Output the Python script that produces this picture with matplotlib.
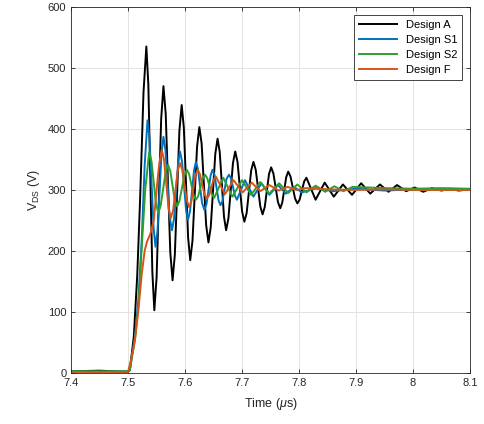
import matplotlib
matplotlib.use('Agg')
import matplotlib.pyplot as plt

plt.rcParams['font.family'] = ['Liberation Sans', 'DejaVu Sans']
plt.rcParams['mathtext.fontset'] = 'custom'
plt.rcParams['mathtext.rm'] = 'Liberation Sans'
plt.rcParams['mathtext.it'] = 'Liberation Sans:italic'

# Design A (black)
t_a = [7.40, 7.45, 7.50, 7.503, 7.510, 7.516, 7.521, 7.527, 7.532, 7.5355, 7.5425, 7.546,
       7.550, 7.558, 7.562, 7.566, 7.574, 7.578, 7.582, 7.590, 7.594, 7.5978, 7.6053, 7.609,
       7.613, 7.621, 7.625, 7.629, 7.637, 7.641, 7.645, 7.653, 7.657, 7.6608, 7.6683, 7.672,
       7.676, 7.684, 7.688, 7.692, 7.700, 7.704, 7.708, 7.716, 7.720, 7.724, 7.732, 7.736,
       7.7398, 7.7473, 7.751, 7.755, 7.763, 7.767, 7.7705, 7.7775, 7.781, 7.785, 7.793, 7.797,
       7.801, 7.809, 7.813, 7.829, 7.845, 7.861, 7.877, 7.893, 7.909, 7.925, 7.942, 7.957,
       7.972, 7.988, 8.003, 8.018, 8.033, 8.050, 8.065, 8.080, 8.100]
v_a = [3, 4, 2, 5, 60, 160, 284, 460, 535, 472, 166, 103,
       157, 416, 470, 424, 198, 152, 194, 397, 439, 402, 222, 185,
       217, 371, 403, 376, 242, 214, 239, 359, 384, 362, 256, 234,
       253, 344, 363, 346, 265, 248, 262, 332, 346, 333, 273, 260,
       272, 326, 337, 327, 280, 270, 279, 321, 330, 322, 286, 278,
       284, 314, 320, 284, 312, 289, 309, 292, 311, 294, 309, 297,
       308, 298, 304, 297, 303, 299, 302, 299, 301]

# Design S1 (blue)
t_s1 = [7.40, 7.45, 7.50, 7.503, 7.512, 7.518, 7.524, 7.529, 7.534, 7.5376, 7.5447, 7.548,
        7.5516, 7.5587, 7.562, 7.5656, 7.5727, 7.577, 7.5806, 7.5877, 7.591, 7.5946, 7.6017,
        7.605, 7.6086, 7.6157, 7.619, 7.6226, 7.6297, 7.634, 7.6376, 7.6447, 7.648, 7.6516,
        7.6587, 7.662, 7.6656, 7.6727, 7.677, 7.6806, 7.6877, 7.691, 7.705, 7.720, 7.734,
        7.748, 7.763, 7.777, 7.791, 7.805, 7.830, 7.860, 7.900, 7.950, 8.000, 8.050, 8.100]
v_s1 = [3, 2, 3, 5, 60, 120, 220, 340, 414, 384, 238, 207,
        233, 361, 387, 365, 257, 234, 253, 344, 363, 347, 267,
        251, 265, 332, 346, 334, 279, 267, 277, 323, 333, 325,
        283, 275, 282, 318, 325, 319, 290, 284, 316, 289, 311,
        292, 308, 294, 305, 296, 303, 298, 302, 299, 301, 300, 300]

# Design S2 (green)
t_s2 = [7.40, 7.45, 7.50, 7.503, 7.512, 7.518, 7.524, 7.530, 7.537, 7.541, 7.549, 7.553,
        7.557, 7.566, 7.570, 7.574, 7.582, 7.586, 7.590, 7.599, 7.603, 7.607, 7.615, 7.619,
        7.623, 7.631, 7.635, 7.639, 7.647, 7.651, 7.667, 7.683, 7.700, 7.716, 7.732, 7.748,
        7.765, 7.781, 7.797, 7.813, 7.829, 7.846, 7.862, 7.878, 7.894, 7.950, 8.000, 8.050,
        8.100]
v_s2 = [3, 3, 3, 5, 55, 110, 207, 300, 362, 347, 277, 262,
        274, 330, 341, 331, 283, 273, 282, 324, 333, 326, 291, 284,
        290, 319, 325, 319, 293, 287, 320, 289, 316, 292, 313, 294,
        311, 295, 309, 296, 307, 297, 306, 298, 305, 303, 302, 303,
        302]

# Design F (orange)
t_f = [7.40, 7.45, 7.50, 7.5006, 7.506, 7.512, 7.518, 7.524, 7.529, 7.533, 7.539, 7.545,
       7.552, 7.555, 7.559, 7.563, 7.571, 7.575, 7.579, 7.587, 7.591, 7.595, 7.603, 7.607,
       7.611, 7.618, 7.622, 7.626, 7.634, 7.638, 7.642, 7.650, 7.654, 7.670, 7.685, 7.701,
       7.717, 7.732, 7.748, 7.764, 7.780, 7.796, 7.811, 7.850, 7.900, 7.950, 8.000, 8.050,
       8.100]
v_f = [2, 2, 2, 5, 25, 54, 103, 163, 200, 215, 228, 250,
       320, 345, 366, 350, 270, 254, 267, 331, 344, 333, 283, 272,
       281, 324, 333, 326, 293, 286, 291, 317, 322, 293, 316, 296,
       312, 298, 308, 299, 305, 300, 303, 301, 300, 301, 300, 300,
       300]

x_ticks = [7.4, 7.5, 7.6, 7.7, 7.8, 7.9, 8.0, 8.1]
x_labels = ['7.4', '7.5', '7.6', '7.7', '7.8', '7.9', '8', '8.1']
y_ticks = [0, 100, 200, 300, 400, 500, 600]

fig = plt.figure(figsize=(4.84, 4.24), dpi=100)
ax = fig.add_axes([0.147, 0.120, 0.824, 0.864])

lw = 1.4
ax.plot(t_a, v_a, color='#000000', linewidth=lw, label='Design A', solid_joinstyle='round')
ax.plot(t_s1, v_s1, color='#0072BD', linewidth=lw, label='Design S1', solid_joinstyle='round')
ax.plot(t_s2, v_s2, color='#2CA02C', linewidth=lw, label='Design S2', solid_joinstyle='round')
ax.plot(t_f, v_f, color='#D95319', linewidth=lw, label='Design F', solid_joinstyle='round')

ax.set_xlim(7.4, 8.1)
ax.set_ylim(0, 600)
ax.set_xticks(x_ticks)
ax.set_xticklabels(x_labels)
ax.set_yticks(y_ticks)
ax.grid(True, color='#dedede', linewidth=0.6)
ax.set_axisbelow(True)
ax.tick_params(direction='in', top=True, right=True, length=3, labelsize=8,
               colors='#262626', width=0.6)
for s in ax.spines.values():
    s.set_color('#262626')
    s.set_linewidth(0.6)

ax.set_xlabel(r'Time ($\mu$s)', fontsize=9, color='#262626', labelpad=6)
ax.set_ylabel(r'V$_{\mathrm{DS}}$ (V)', fontsize=9, color='#262626')

leg = ax.legend(loc='upper right', fontsize=8, fancybox=False, framealpha=1,
                edgecolor='#262626', handlelength=3.4, borderpad=0.45,
                labelspacing=0.45, borderaxespad=0.7)
leg.get_frame().set_linewidth(0.6)

plt.savefig('out.png', dpi=100)
